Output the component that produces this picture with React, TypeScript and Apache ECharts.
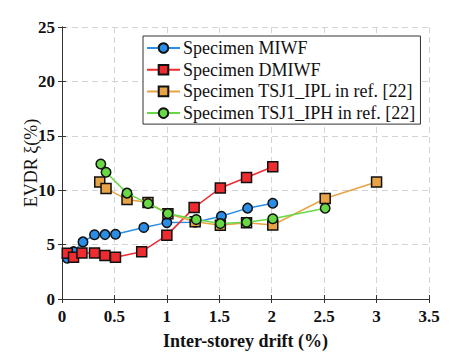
import React, { useEffect, useRef } from "react";
import * as echarts from "echarts";

const seriesNames = [
  "Specimen MIWF",
  "Specimen DMIWF",
  "Specimen TSJ1_IPL in ref. [22]",
  "Specimen TSJ1_IPH in ref. [22]",
];

const miwf: [number, number][] = [
  [0.05, 3.75], [0.11, 4.35], [0.2, 5.25], [0.31, 5.9], [0.41, 5.92], [0.51, 5.95],
  [0.78, 6.57], [1.0, 7.02], [1.27, 7.05], [1.52, 7.6], [1.77, 8.35], [2.01, 8.8],
];
const dmiwf: [number, number][] = [
  [0.05, 4.2], [0.11, 3.84], [0.19, 4.23], [0.31, 4.23], [0.41, 3.99], [0.51, 3.84],
  [0.76, 4.35], [1.0, 5.85], [1.26, 8.4], [1.51, 10.2], [1.76, 11.17], [2.01, 12.16],
];
const tsjIpl: [number, number][] = [
  [0.36, 10.75], [0.42, 10.15], [0.62, 9.15], [0.82, 8.86], [1.01, 7.84], [1.27, 7.1],
  [1.51, 6.78], [1.76, 7.0], [2.01, 6.8], [2.51, 9.24], [3.0, 10.75],
];
const tsjIph: [number, number][] = [
  [0.37, 12.4], [0.42, 11.65], [0.62, 9.73], [0.82, 8.77], [1.01, 7.86], [1.28, 7.3],
  [1.51, 6.93], [1.76, 7.05], [2.01, 7.38], [2.51, 8.34],
];

const colors = ["#2a8de6", "#ee2b2f", "#e8a347", "#68d845"];
const symbols = ["circle", "rect", "rect", "circle"];
const datasets = [miwf, dmiwf, tsjIpl, tsjIph];

const FONT = "Liberation Serif";

export default function App() {
  const ref = useRef<HTMLDivElement>(null);
  useEffect(() => {
    if (!ref.current) return;
    const chart = echarts.init(ref.current, undefined, { renderer: "svg" });
    const axisCommon = {
      type: "value" as const,
      axisLine: { show: true, lineStyle: { color: "#333", width: 1 } },
      axisTick: { show: true, inside: true, length: 4, lineStyle: { color: "#333" } },
    };
    chart.setOption({
      animation: false,
      backgroundColor: "#fff",
      textStyle: { fontFamily: FONT },
      grid: { left: 62, right: 45, top: 27, bottom: 51, containLabel: false },
      legend: {
        orient: "vertical",
        left: 143,
        top: 36,
        padding: [3, 5, 2, 3],
        itemGap: 3.7,
        itemWidth: 33,
        itemHeight: 12,
        borderColor: "#333",
        borderWidth: 1,
        backgroundColor: "#fff",
        textStyle: { fontFamily: FONT, fontSize: 18, color: "#111", padding: [0, 0, 0, -2] },
        data: seriesNames,
      },
      xAxis: [
        {
          ...axisCommon,
          min: 0,
          max: 3.5,
          interval: 0.5,
          name: "Inter-storey drift (%)",
          nameLocation: "middle",
          nameGap: 33,
          nameMoveOverlap: false,
          nameTextStyle: { fontFamily: FONT, fontSize: 18, fontWeight: "bold", color: "#111" },
          axisLabel: { fontFamily: FONT, fontSize: 17, fontWeight: "bold", color: "#111", margin: 9 },
          splitLine: { show: true, lineStyle: { color: "#d4d4d4", type: [6, 4], width: 1 } },
        },
        {
          ...axisCommon,
          position: "top",
          min: 0,
          max: 3.5,
          interval: 0.5,
          axisLabel: { show: false },
          splitLine: { show: false },
        },
      ],
      yAxis: [
        {
          ...axisCommon,
          min: 0,
          max: 25,
          interval: 5,
          name: "EVDR ξ(%)",
          nameLocation: "middle",
          nameGap: 22,
          nameMoveOverlap: false,
          nameTextStyle: { fontFamily: FONT, fontSize: 18, color: "#111" },
          axisLabel: { fontFamily: FONT, fontSize: 17, fontWeight: "bold", color: "#111", margin: 7 },
          splitLine: { show: true, lineStyle: { color: "#d4d4d4", type: [6, 4], width: 1 } },
        },
        {
          ...axisCommon,
          position: "right",
          min: 0,
          max: 25,
          interval: 5,
          axisLabel: { show: false },
          splitLine: { show: false },
        },
      ],
      series: datasets.map((d, i) => ({
        name: seriesNames[i],
        type: "line",
        data: d,
        symbol: symbols[i],
        symbolSize: symbols[i] === "rect" ? 10 : 9.5,
        showAllSymbol: true,
        lineStyle: { color: colors[i], width: 1.5 },
        itemStyle: { color: colors[i], borderColor: "#111", borderWidth: 1.5 },
        z: 2 + i,
      })),
    });
    return () => chart.dispose();
  }, []);
  return <div ref={ref} style={{ width: 474, height: 355, position: "absolute", left: 0, top: 0 }} />;
}
